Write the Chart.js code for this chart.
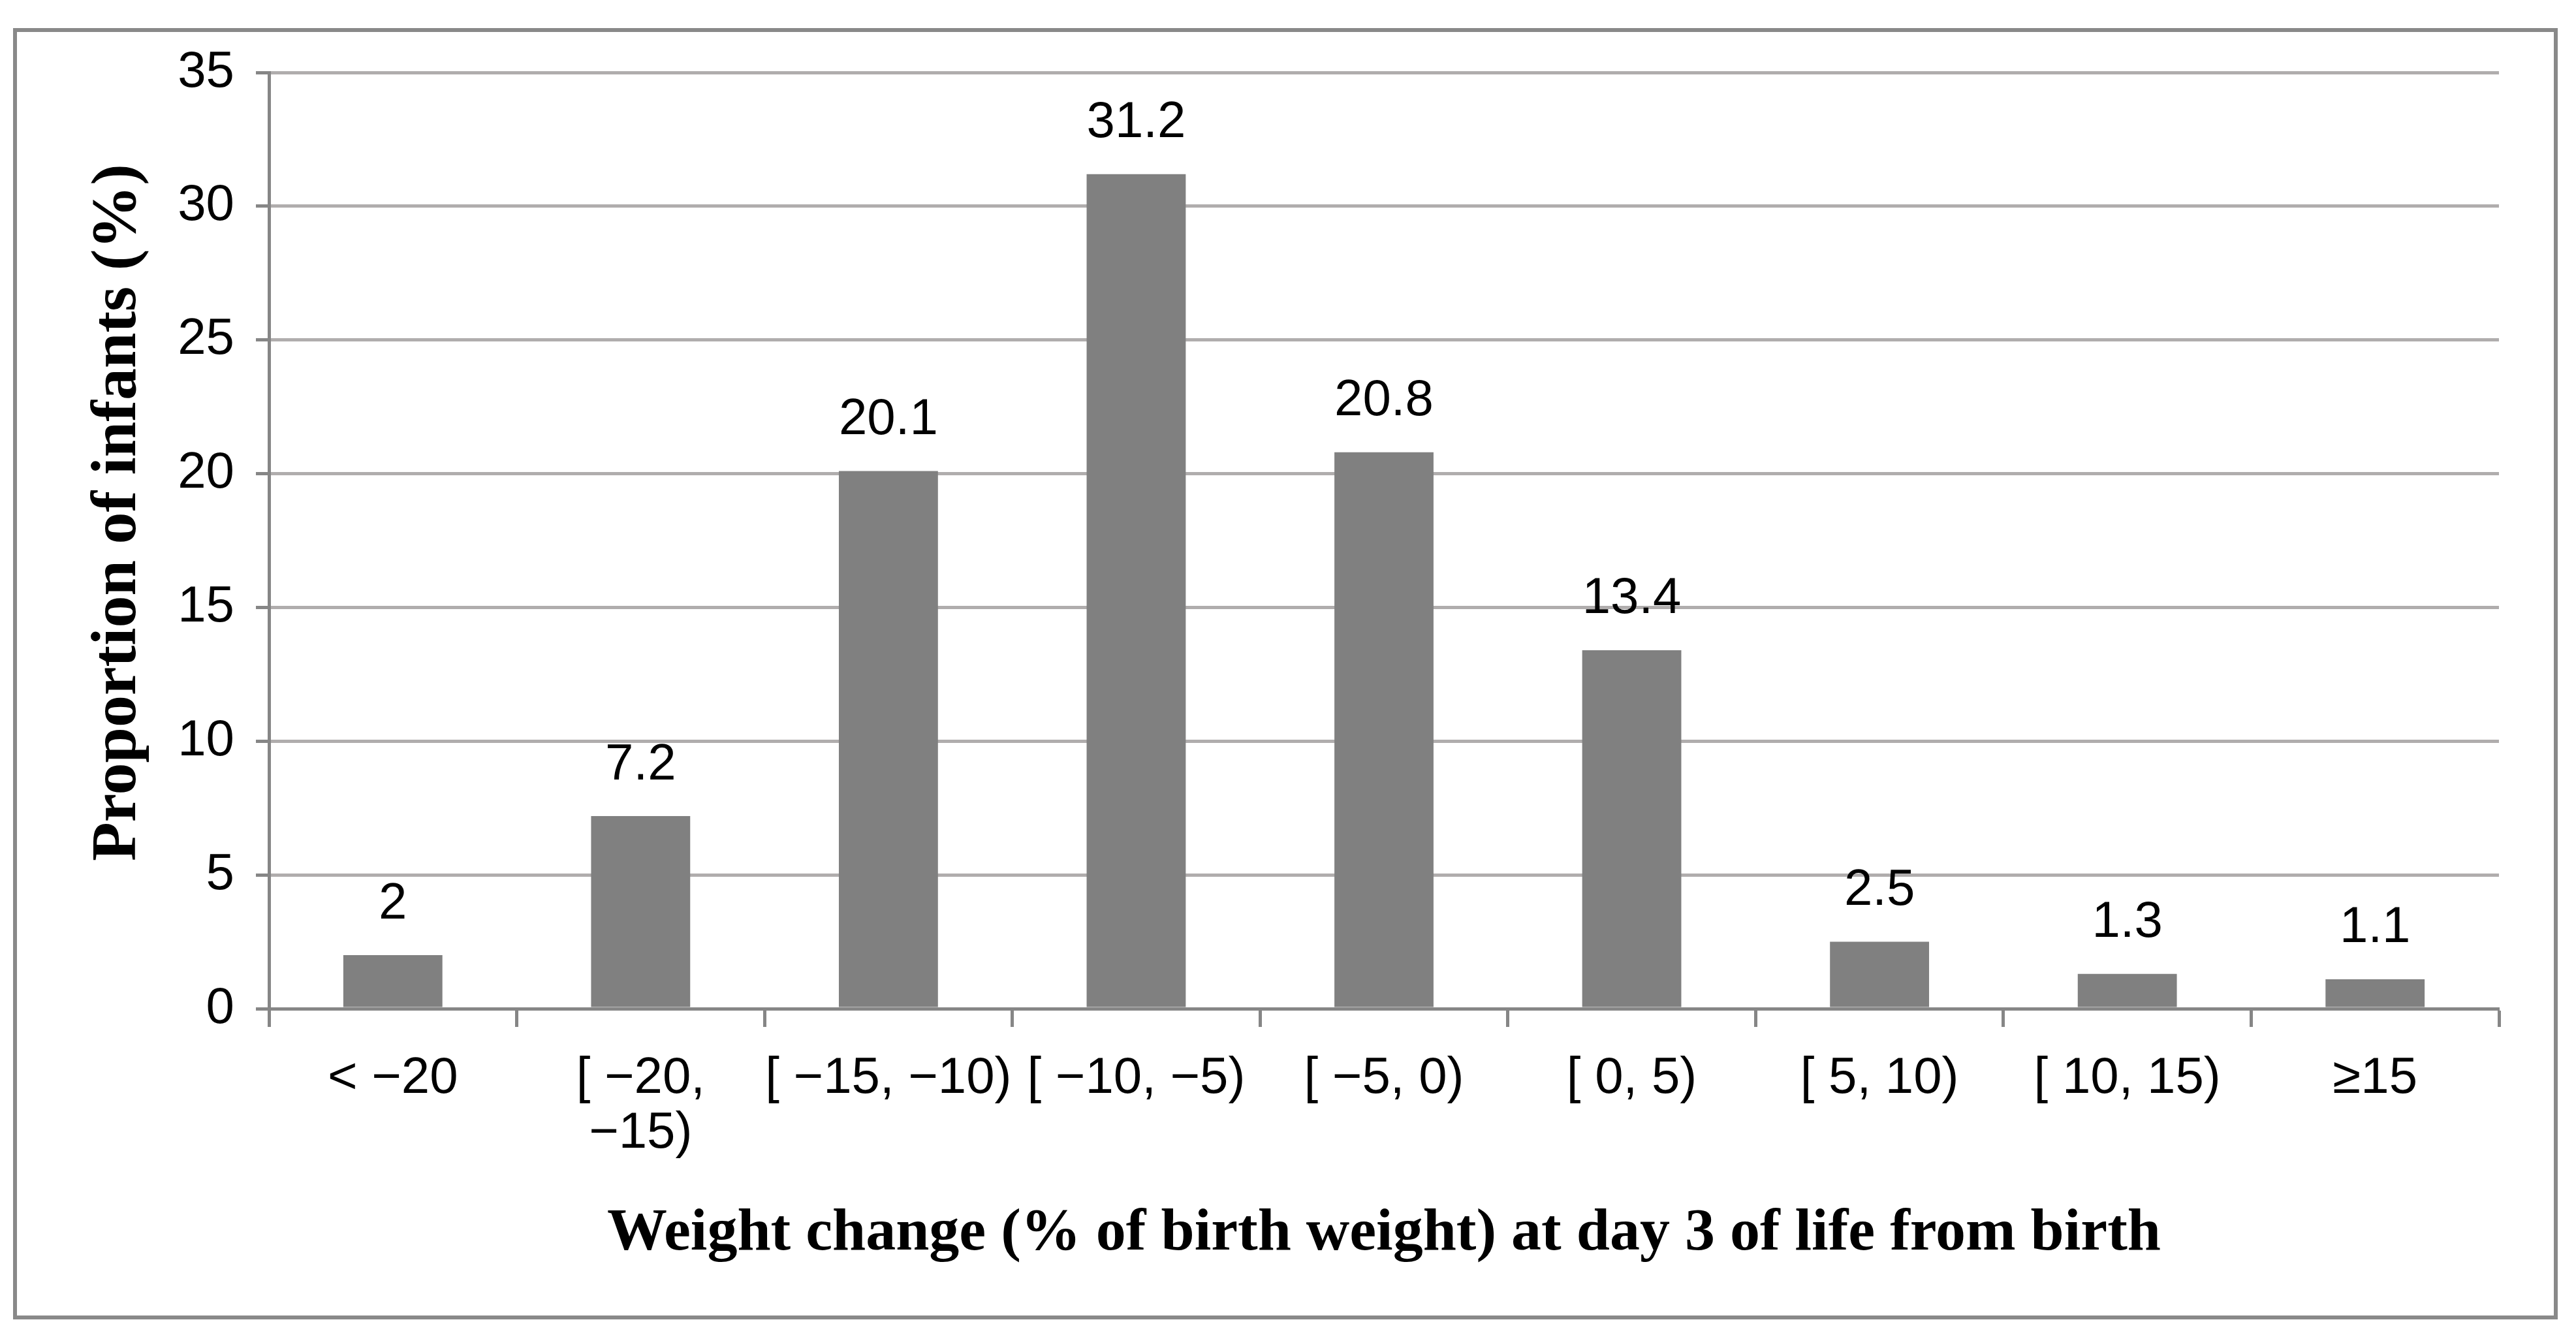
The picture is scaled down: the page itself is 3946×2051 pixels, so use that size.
<!DOCTYPE html>
<html>
<head>
<meta charset="utf-8">
<script src="https://cdn.jsdelivr.net/npm/chart.js@4.4.1/dist/chart.umd.min.js"></script>
<style>
  html, body { margin: 0; padding: 0; background: #ffffff; }
  body { width: 3946px; height: 2051px; position: relative; overflow: hidden; }
  #frame { position: absolute; left: 20px; top: 43px; width: 3898px; height: 1978px;
           border: 6px solid #898989; box-sizing: border-box; }
  #wrap { position: absolute; left: 0; top: 0; width: 3946px; height: 2051px; }
</style>
</head>
<body>
<div id="frame"></div>
<div id="wrap"><canvas id="c"></canvas></div>
<script>
const categories = ['< \u221220', ['[ \u221220,', '\u221215)'], '[ \u221215, \u221210)', '[ \u221210, \u22125)',
                    '[ \u22125, 0)', '[ 0, 5)', '[ 5, 10)', '[ 10, 15)', '\u226515'];
const proportions = [2, 7.2, 20.1, 31.2, 20.8, 13.4, 2.5, 1.3, 1.1];
const valueLabels = ['2', '7.2', '20.1', '31.2', '20.8', '13.4', '2.5', '1.3', '1.1'];
const yTicks = [0, 5, 10, 15, 20, 25, 30, 35];
const xTitle = 'Weight change (% of birth weight) at day 3 of life from birth';
const yTitle = 'Proportion of infants (%)';

const sansFont = "'Liberation Sans', Arial, sans-serif";
const serifFont = "'Liberation Serif', 'Times New Roman', serif";

const valueLabelPlugin = {
  id: 'valueLabels',
  afterDatasetsDraw(chart) {
    const ctx = chart.ctx;
    const meta = chart.getDatasetMeta(0);
    ctx.save();
    ctx.fillStyle = '#000000';
    ctx.font = '78px ' + sansFont;
    ctx.textAlign = 'center';
    ctx.textBaseline = 'middle';
    meta.data.forEach((bar, i) => {
      ctx.fillText(valueLabels[i], bar.x, bar.y - 78);
    });
    ctx.restore();
  }
};

const yTitlePlugin = {
  id: 'yTitle',
  afterDraw(chart) {
    const ctx = chart.ctx;
    ctx.save();
    ctx.translate(182, 785);
    ctx.rotate(-Math.PI / 2);
    ctx.fillStyle = '#000000';
    ctx.font = 'bold 98px ' + serifFont;
    ctx.textAlign = 'center';
    ctx.textBaseline = 'middle';
    ctx.fillText(yTitle, 0, 0);
    ctx.restore();
  }
};

new Chart(document.getElementById('c'), {
  type: 'bar',
  data: {
    labels: categories,
    datasets: [{
      data: proportions,
      backgroundColor: '#808080',
      borderWidth: 0,
      categoryPercentage: 1.0,
      barPercentage: 0.4
    }]
  },
  options: {
    responsive: true,
    maintainAspectRatio: false,
    animation: false,
    devicePixelRatio: 1,
    layout: { padding: { left: 0, top: 111, right: 118, bottom: 0 } },
    plugins: {
      legend: { display: false },
      tooltip: { enabled: false },
      title: { display: false }
    },
    scales: {
      x: {
        afterFit(scale) { scale.height = 506; },
        border: { display: true, color: '#868686', width: 5 },
        grid: {
          display: true, drawOnChartArea: false, drawTicks: true, offset: true,
          tickLength: 28, tickColor: '#868686', tickWidth: 5, tickBorderDash: []
        },
        ticks: {
          color: '#000000',
          font: { family: sansFont, size: 78, lineHeight: 1.07 },
          padding: 38,
          maxRotation: 0, minRotation: 0, autoSkip: false
        },
        title: {
          display: true, text: xTitle, color: '#000000',
          font: { family: serifFont, size: 92, weight: 'bold', lineHeight: 1.2 },
          padding: { top: 0, bottom: 106 }
        }
      },
      y: {
        min: 0, max: 35,
        afterFit(scale) { scale.width = 412; },
        afterBuildTicks(scale) { scale.ticks = yTicks.map(v => ({ value: v })); },
        border: { display: true, color: '#868686', width: 5 },
        grid: {
          display: true, drawOnChartArea: true, drawTicks: true,
          color: (c) => (c.tick && c.tick.value === 0) ? 'rgba(0,0,0,0)' : '#b0adad',
          lineWidth: 5,
          borderDash: [6, 3],
          tickLength: 20, tickColor: '#868686', tickWidth: 5, tickBorderDash: []
        },
        ticks: {
          color: '#000000',
          font: { family: sansFont, size: 78 },
          padding: 33
        }
      }
    }
  },
  plugins: [valueLabelPlugin, yTitlePlugin]
});
</script>
</body>
</html>
